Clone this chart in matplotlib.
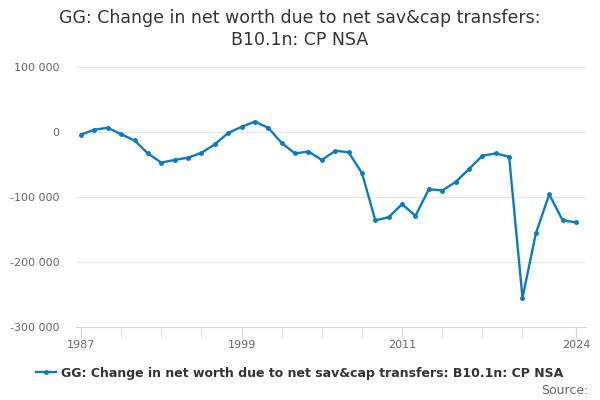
import numpy as np
import matplotlib.pyplot as plt

# anos e valores
anos = np.arange(1987, 2025)
valores = [-4000, 3500, 6500, -3500, -13000, -33000, -47000, -43000, -39500, -32000,
           -19000, -1500, 8000, 16000, 6500, -17000, -33000, -30000, -43000, -29000,
           -31000, -63000, -136000, -131000, -111000, -129000, -88000, -90000, -77000,
           -57000, -36500, -33000, -38000, -255000, -156000, -96000, -136000, -139000]
y_ticks = [-300000, -200000, -100000, 0, 100000]
x_labels = [1987, 1999, 2011, 2024]
x_ticks_minor = list(range(1987, 2021, 3)) + [2024]

titulo = "GG: Change in net worth due to net sav&cap transfers:\nB10.1n: CP NSA"
legenda = "GG: Change in net worth due to net sav&cap transfers: B10.1n: CP NSA"

cor = '#0b7bc1'

fig = plt.figure(figsize=(6, 4), dpi=100)
ax = fig.add_axes([76/600, 1 - 327/400, (586 - 76)/600, (327 - 67)/400])

ax.plot(anos, valores, color=cor, linewidth=1.7, marker='o', markersize=2.5, label=legenda)

ax.set_ylim(-300000, 100000)
ax.set_xlim(1987 - 5/13.38, 2024 + 10/13.38)
ax.set_yticks(y_ticks)
ax.set_yticklabels(["{:,}".format(v).replace(",", " ") for v in y_ticks])
ax.set_xticks(x_ticks_minor, minor=True)
ax.set_xticks(x_labels)
ax.set_xticklabels([str(a) for a in x_labels])

ax.grid(axis='y', color='#e6e6e6', linewidth=0.8)
ax.set_axisbelow(True)
for s in ['top', 'right', 'left']:
    ax.spines[s].set_visible(False)
ax.spines['bottom'].set_color('#ccd6eb')
ax.tick_params(axis='y', length=0, labelsize=8, colors='#666666', pad=12)
ax.tick_params(axis='x', which='both', length=8, color='#ccd6eb', labelsize=8,
               labelcolor='#666666', pad=1)

fig.text(0.5, 1 - 29/400, titulo, ha='center', va='center', fontsize=12.5, color='#333333',
         linespacing=1.25)

fig.legend(loc='center', bbox_to_anchor=(0.5, 1 - 373/400), frameon=False,
           prop={'size': 9, 'weight': 'bold'}, labelcolor='#333333',
           handlelength=1.6, handletextpad=0.4)

fig.text(588/600, 1 - 390/400, "Source:", ha='right', va='center', fontsize=9, color='#666666')

fig.savefig('out.png', dpi=100)
